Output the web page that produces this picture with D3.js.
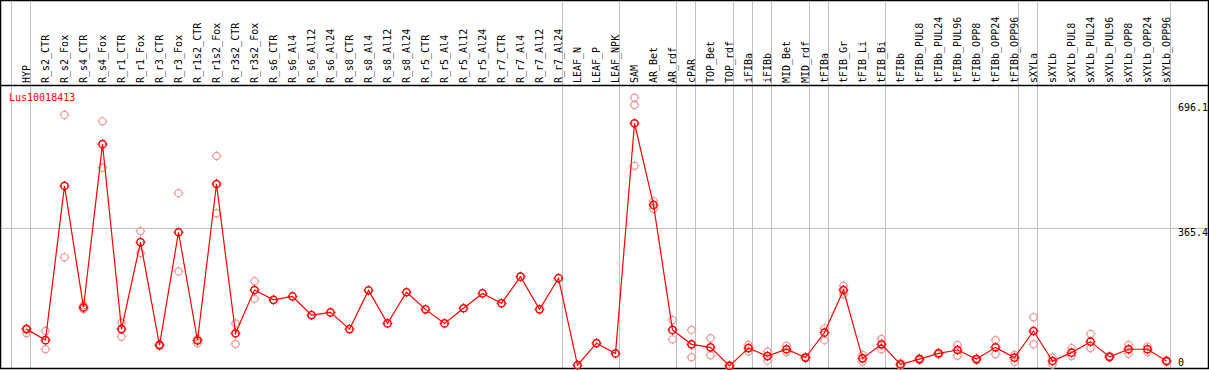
<!DOCTYPE html>
<html>
<head>
<meta charset="utf-8">
<script src="https://cdn.jsdelivr.net/npm/d3@7"></script>
<style>
  html, body { margin: 0; padding: 0; background: #fff; }
  svg { display: block; }
  text { font-family: "DejaVu Sans Mono", monospace; font-size: 10px; }
</style>
</head>
<body>
<script>
const categories = ["HYP","R_s2_CTR","R_s2_Fox","R_s4_CTR","R_s4_Fox","R_r1_CTR","R_r1_Fox","R_r3_CTR","R_r3_Fox","R_r1s2_CTR","R_r1s2_Fox","R_r3s2_CTR","R_r3s2_Fox","R_s6_CTR","R_s6_Al4","R_s6_Al12","R_s6_Al24","R_s8_CTR","R_s8_Al4","R_s8_Al12","R_s8_Al24","R_r5_CTR","R_r5_Al4","R_r5_Al12","R_r5_Al24","R_r7_CTR","R_r7_Al4","R_r7_Al12","R_r7_Al24","LEAF_N","LEAF_P","LEAF_NPK","SAM","AR_Bet","AR_rdf","cPAR","TOP_Bet","TOP_rdf","iFIBa","iFIBb","MID_Bet","MID_rdf","tFIBa","tFIB_Gr","tFIB_Li","tFIB_Bi","tFIBb","tFIBb_PUL8","tFIBb_PUL24","tFIBb_PUL96","tFIBb_OPP8","tFIBb_OPP24","tFIBb_OPP96","sXYLa","sXYLb","sXYLb_PUL8","sXYLb_PUL24","sXYLb_PUL96","sXYLb_OPP8","sXYLb_OPP24","sXYLb_OPP96"];

const meanValues = [100,71,477,157,587,100,329,58,355,70,482,89,203,177,186,137,144,100,202,115,197,152,115,155,194,168,238,152,234,5,63,36,642,427,98,60,52,3,50,29,47,25,91,203,23,60,7,21,36,45,21,52,25,95,16,38,67,27,47,47,16];

const repValues1 = [102,95,664,162,647,117,358,60,458,74,556,115,226,null,null,null,null,null,null,null,null,null,null,null,null,null,null,null,null,null,null,null,709,437,124,98,76,5,58,41,56,27,102,214,32,74,10,23,38,58,23,71,32,131,25,50,87,29,58,54,18];
const repValues2 = [89,47,289,153,525,80,300,56,252,63,405,61,180,null,null,null,null,null,null,null,null,null,null,null,null,null,null,null,null,null,null,null,690,416,73,26,31,1,41,17,40,23,71,192,14,47,4,18,34,30,18,34,14,60,7,29,50,25,35,40,14];
const repValues3 = [null,null,null,null,null,null,null,null,null,null,null,null,null,null,null,null,null,null,null,null,null,null,null,null,null,null,null,null,null,null,null,null,530,null,null,null,null,null,null,null,null,null,null,null,null,null,null,null,null,null,null,null,null,null,null,null,null,null,null,null,null];

// index of the column after which a group separator is drawn (-1 = before first)
const separatorsAfter = [-1,0,28,31,34,35,37,38,39,41,42,45,52,53,60];
const tickValues = [0, 365.4, 696.1];
const tickLabels = ["0", "365.4", "696.1"];
const geneName = "Lus10018413";

const W = 1209, H = 370;
const svg = d3.select("body").append("svg").attr("width", W).attr("height", H);
svg.append("rect").attr("width", W).attr("height", H).attr("fill", "#fff");

const x = d3.scaleBand().domain(categories).range([11, 11 + 19 * categories.length]).padding(0);
const px = c => x(c) + 15.5;
const y = d3.scaleLinear().domain([0, 696.1]).range([367.1, 102.7]);

const grid = "#c0c0c0";
svg.append("line").attr("x1", 0).attr("x2", 1208).attr("y1", Math.round(y(365.4)) + 0.5).attr("y2", Math.round(y(365.4)) + 0.5)
  .attr("stroke", grid).attr("stroke-width", 1);

svg.selectAll("line.sep").data(separatorsAfter).join("line").attr("class", "sep")
  .attr("x1", i => (i < 0 ? x(categories[0]) : x(categories[i]) + x.bandwidth()) + 0.5)
  .attr("x2", i => (i < 0 ? x(categories[0]) : x(categories[i]) + x.bandwidth()) + 0.5)
  .attr("y1", 0).attr("y2", 368).attr("stroke", grid).attr("stroke-width", 1);

svg.selectAll("text.cat").data(categories).join("text").attr("class", "cat")
  .attr("transform", c => `translate(${px(c) + 3.5},83) rotate(-90)`)
  .attr("text-anchor", "start").attr("fill", "#000").text(c => c);

svg.append("line").attr("x1", 0).attr("x2", 1209).attr("y1", 85.5).attr("y2", 85.5).attr("stroke", "#000").attr("stroke-width", 1.5);
svg.append("rect").attr("x", 0.5).attr("y", 0.5).attr("width", 1208).attr("height", 368).attr("fill", "none").attr("stroke", "#000").attr("stroke-width", 1.5);

svg.append("text").attr("x", 9).attr("y", 101).attr("fill", "#ff0000").text(geneName);

svg.selectAll("text.tick").data(tickValues).join("text").attr("class", "tick")
  .attr("x", 1178).attr("y", (v) => Math.min(y(v) + 8, 366)).attr("fill", "#000")
  .text((v, i) => tickLabels[i]);

const pink = "#ec9a9a";
function marker(g, cx, cy, color, sw) {
  g.append("circle").attr("cx", cx).attr("cy", cy).attr("r", 3.6).attr("fill", "none").attr("stroke", color).attr("stroke-width", sw);
  const t = 5;
  g.append("path").attr("d", `M${cx},${cy - t}v1.6M${cx},${cy + t}v-1.6M${cx - t},${cy}h1.6M${cx + t},${cy}h-1.6`)
    .attr("stroke", color).attr("stroke-width", 1).attr("fill", "none");
}

const repG = svg.append("g");
[repValues1, repValues2, repValues3].forEach(arr => {
  arr.forEach((v, i) => { if (v !== null) marker(repG, px(categories[i]), y(v), pink, 1.2); });
});

const line = d3.line().x((d, i) => px(categories[i])).y(d => y(d));
svg.append("path").datum(meanValues).attr("d", line).attr("fill", "none").attr("stroke", "#ff0000").attr("stroke-width", 1.2);

const meanG = svg.append("g");
meanValues.forEach((v, i) => marker(meanG, px(categories[i]), y(v), "#ff0000", 1.5));
</script>
</body>
</html>
